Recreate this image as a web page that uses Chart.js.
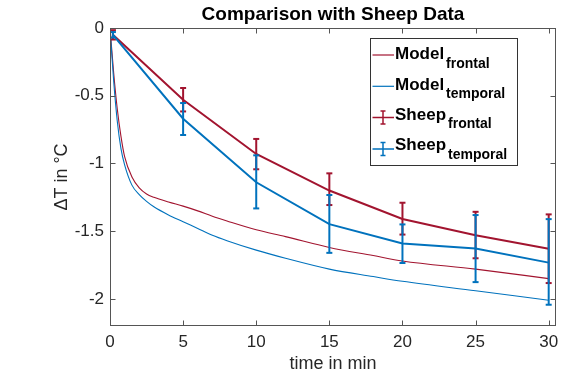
<!DOCTYPE html>
<html><head><meta charset="utf-8">
<script src="https://cdn.jsdelivr.net/npm/chart.js@4/dist/chart.umd.min.js"></script>
<style>html,body{margin:0;padding:0;background:#fff}canvas{display:block}</style>
</head><body>
<canvas id="c" width="588" height="375"></canvas>
<script>
const chartTitle = 'Comparison with Sheep Data';
const xTitle = 'time in min';
const yTitle = 'ΔT in °C';
const xTicks = [0, 5, 10, 15, 20, 25, 30];
const yTicks = [0, -0.5, -1, -1.5, -2];
const xRange = [0, 30.5];
const yRange = [-2.2, 0];

const modelTime     = [0, 0.25, 0.5, 0.75, 1, 1.5, 2, 2.5, 3, 4, 5, 6, 7, 8, 10, 12, 15, 18, 20, 25, 30];
const modelFrontal  = [0, -0.33, -0.6, -0.8, -0.95, -1.1, -1.18, -1.225, -1.25, -1.285, -1.315, -1.35, -1.39, -1.425, -1.49, -1.54, -1.62, -1.68, -1.72, -1.78, -1.85];
const modelTemporal = [0, -0.39, -0.69, -0.89, -1.01, -1.16, -1.23, -1.28, -1.32, -1.38, -1.43, -1.48, -1.53, -1.57, -1.64, -1.70, -1.78, -1.835, -1.87, -1.94, -2.01];

const sheepTime = [0.2, 5, 10, 15, 20, 25, 30];
const sheepFrontal      = [-0.05, -0.53, -0.93, -1.2, -1.41, -1.53, -1.63];
const sheepFrontalLow   = [-0.085, -0.616, -1.043, -1.307, -1.525, -1.70, -1.883];
const sheepFrontalHigh  = [-0.016, -0.443, -0.819, -1.073, -1.29, -1.357, -1.376];
const sheepTemporal     = [-0.05, -0.67, -1.139, -1.448, -1.591, -1.628, -1.732];
const sheepTemporalLow  = [-0.07, -0.79, -1.332, -1.66, -1.735, -1.876, -2.043];
const sheepTemporalHigh = [-0.03, -0.554, -0.94, -1.233, -1.45, -1.381, -1.411];

const legendMain = ['Model', 'Model', 'Sheep', 'Sheep'];
const legendSub  = ['frontal', 'temporal', 'frontal', 'temporal'];

const RED = '#A2142F', BLUE = '#0072BD';
const FONT = '"Liberation Sans", Arial, Helvetica, sans-serif';

const pts = (xs, ys) => xs.map((x, i) => ({x, y: ys[i]}));

const datasets = [];
datasets.push({label: 'Model frontal', data: pts(modelTime, modelFrontal), borderColor: RED, borderWidth: 1.1, pointRadius: 0, showLine: true, cubicInterpolationMode: 'monotone', order: 6});
datasets.push({label: 'Model temporal', data: pts(modelTime, modelTemporal), borderColor: BLUE, borderWidth: 1.1, pointRadius: 0, showLine: true, cubicInterpolationMode: 'monotone', order: 5});
datasets.push({label: 'Sheep frontal', data: pts(sheepTime, sheepFrontal), borderColor: RED, borderWidth: 2, pointRadius: 0, showLine: true, order: 4});
sheepTime.forEach((t, i) => datasets.push({label: 'err f', data: [{x: t, y: sheepFrontalLow[i]}, {x: t, y: sheepFrontalHigh[i]}], borderColor: RED, backgroundColor: RED, borderWidth: 2, pointStyle: 'line', pointRadius: 3, pointBorderWidth: 2, showLine: true, order: 3}));
datasets.push({label: 'Sheep temporal', data: pts(sheepTime, sheepTemporal), borderColor: BLUE, borderWidth: 2, pointRadius: 0, showLine: true, order: 2});
sheepTime.forEach((t, i) => datasets.push({label: 'err t', data: [{x: t, y: sheepTemporalLow[i]}, {x: t, y: sheepTemporalHigh[i]}], borderColor: BLUE, backgroundColor: BLUE, borderWidth: 2, pointStyle: 'line', pointRadius: 3, pointBorderWidth: 2, showLine: true, order: 1}));

const framePlugin = {
  id: 'frame',
  afterDraw(chart) {
    const {ctx, chartArea: a, scales: {x, y}} = chart;
    ctx.save();
    ctx.strokeStyle = '#555';
    ctx.lineWidth = 1;
    const L = Math.round(a.left) + 0.5, R = Math.round(a.right) - 0.5, T = Math.round(a.top) + 0.5, B = Math.round(a.bottom) - 0.5;
    ctx.strokeRect(L, T, R - L, B - T);
    ctx.beginPath();
    xTicks.forEach(v => {
      const p = Math.round(x.getPixelForValue(v)) + 0.5;
      ctx.moveTo(p, B); ctx.lineTo(p, B - 5);
      ctx.moveTo(p, T); ctx.lineTo(p, T + 5);
    });
    yTicks.forEach(v => {
      const p = Math.round(y.getPixelForValue(v)) + 0.5;
      ctx.moveTo(L, p); ctx.lineTo(L + 5, p);
      ctx.moveTo(R, p); ctx.lineTo(R - 5, p);
    });
    ctx.stroke();

    // title
    ctx.fillStyle = '#000';
    ctx.font = 'bold 19px ' + FONT;
    ctx.textAlign = 'center';
    ctx.textBaseline = 'alphabetic';
    ctx.fillText(chartTitle, (a.left + a.right) / 2, 20);

    // legend
    const bx = 370.5, by = 38.5, bw = 147, bh = 127;
    ctx.fillStyle = '#fff';
    ctx.fillRect(bx, by, bw, bh);
    ctx.strokeStyle = '#333';
    ctx.strokeRect(bx, by, bw, bh);
    const colors = [RED, BLUE, RED, BLUE];
    ctx.textAlign = 'left';
    for (let i = 0; i < 4; i++) {
      const ly = 55 + 31.3 * i;
      const tc = 53.3 + 30.2 * i;
      ctx.strokeStyle = colors[i];
      ctx.lineWidth = i < 2 ? 1.2 : 1.5;
      ctx.beginPath();
      ctx.moveTo(372.5, ly); ctx.lineTo(394, ly);
      if (i >= 2) {
        ctx.moveTo(383, ly - 6.5); ctx.lineTo(383, ly + 6.5);
        ctx.moveTo(380.5, ly - 6.5); ctx.lineTo(385.5, ly - 6.5);
        ctx.moveTo(380.5, ly + 6.5); ctx.lineTo(385.5, ly + 6.5);
      }
      ctx.stroke();
      ctx.fillStyle = '#000';
      ctx.font = 'bold 17px ' + FONT;
      const base = tc + 6.1;
      ctx.fillText(legendMain[i], 395, base);
      const w = ctx.measureText(legendMain[i]).width;
      ctx.font = 'bold 14px ' + FONT;
      ctx.fillText(legendSub[i], 395 + w + 2, base + 8.6);
    }
    ctx.restore();
  }
};

new Chart(document.getElementById('c'), {
  type: 'scatter',
  data: {datasets},
  plugins: [framePlugin],
  options: {
    responsive: false,
    animation: false,
    devicePixelRatio: 1,
    layout: {padding: {top: 28, right: 32, left: 0, bottom: 0}},
    plugins: {legend: {display: false}, tooltip: {enabled: false}, title: {display: false}},
    scales: {
      x: {
        type: 'linear', min: xRange[0], max: xRange[1],
        afterFit: s => { s.height = 49; },
        afterBuildTicks: s => { s.ticks = xTicks.map(v => ({value: v})); },
        grid: {display: false, drawTicks: false},
        border: {display: false},
        ticks: {padding: 6, color: '#262626', font: {family: FONT, size: 17}, callback: v => String(v), maxRotation: 0, includeBounds: false},
        title: {display: true, text: xTitle, color: '#262626', font: {family: FONT, size: 18}, padding: {top: 0, bottom: 0}}
      },
      y: {
        type: 'linear', min: yRange[0], max: yRange[1],
        afterFit: s => { s.width = 110; },
        afterBuildTicks: s => { s.ticks = yTicks.map(v => ({value: v})); },
        grid: {display: false, drawTicks: false},
        border: {display: false},
        ticks: {padding: 6, color: '#262626', font: {family: FONT, size: 17}, callback: v => String(v), includeBounds: false},
        title: {display: true, text: yTitle, color: '#262626', font: {family: FONT, size: 18}, padding: {top: 51, bottom: 0}}
      }
    }
  }
});
</script>
</body></html>
